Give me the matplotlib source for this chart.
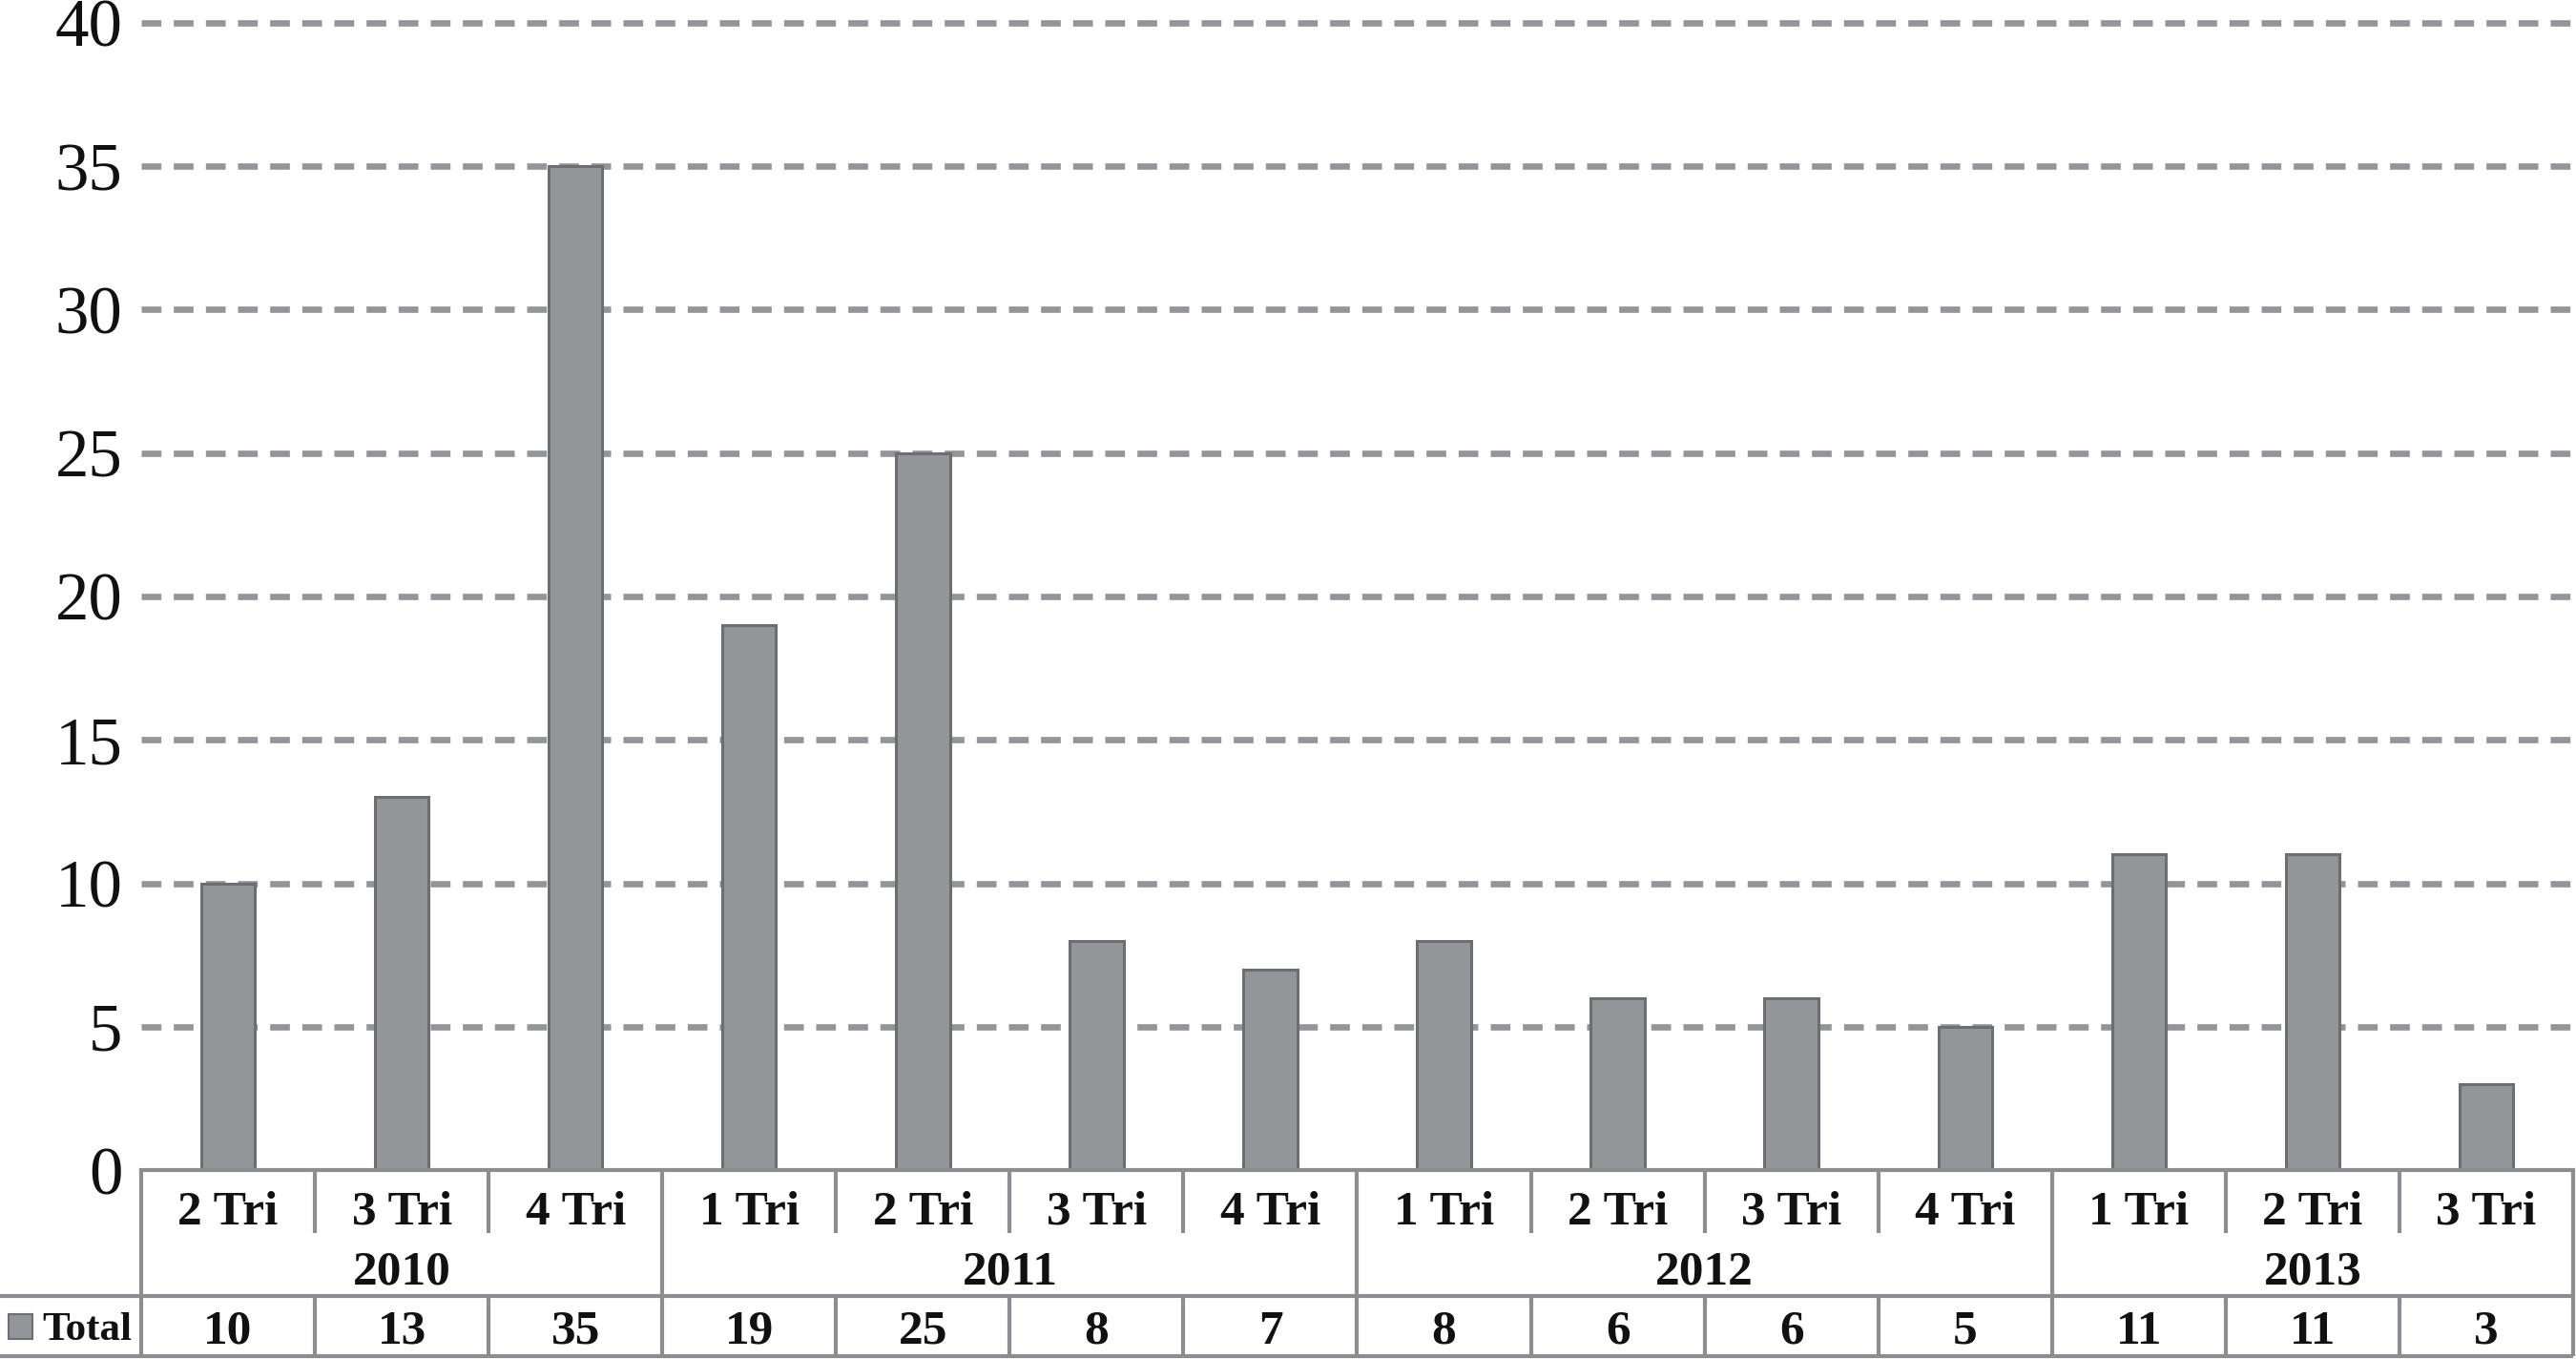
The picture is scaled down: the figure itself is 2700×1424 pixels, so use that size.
#!/usr/bin/env python3
"""Quarterly totals 2010-2013 with data table underneath"""
import matplotlib
matplotlib.use('Agg')
import matplotlib.pyplot as plt
from matplotlib.patches import Rectangle

plt.rcParams['font.family'] = ['Liberation Serif', 'DejaVu Serif']

quarters = ['2 Tri', '3 Tri', '4 Tri',
            '1 Tri', '2 Tri', '3 Tri', '4 Tri',
            '1 Tri', '2 Tri', '3 Tri', '4 Tri',
            '1 Tri', '2 Tri', '3 Tri']
years = ['2010', '2011', '2012', '2013']
year_sizes = [3, 4, 4, 3]
totals = [10, 13, 35, 19, 25, 8, 7, 8, 6, 6, 5, 11, 11, 3]
series_name = 'Total'

BAR = '#939598'
EDGE = '#6d6e71'
LINE = '#8c8d90'

W, H = 2700, 1424
fig = plt.figure(figsize=(W / 100, H / 100), dpi=100)
fig.patch.set_facecolor('white')

# pixel layout
x_left, x_right = 148, 2697
y_zero, y_top = 1226, 24
n = len(totals)
s = (x_right - x_left) / n          # px per category
ymax = 40.2
unit = (y_zero - y_top) / 40.0
ax_top = y_zero - ymax * unit

ax = fig.add_axes([x_left / W, 1 - y_zero / H, (x_right - x_left) / W, (y_zero - ax_top) / H])
ax.set_xlim(-0.5, n - 0.5)
ax.set_ylim(0, ymax)
ax.set_axisbelow(True)

xs = list(range(n))
ax.bar(xs, totals, width=0.31, color=BAR, edgecolor=EDGE, linewidth=2.2, zorder=3)

ax.set_yticks(range(0, 45, 5))
ax.set_xticks([])
ax.tick_params(axis='y', length=0, pad=14, labelsize=51, labelcolor='#111111')
ax.yaxis.grid(True, color='#949598', linewidth=4.8, linestyle=(0, (3.1, 1.95)))
ax.get_ygridlines()[0].set_visible(False)
for side in ('left', 'right', 'top'):
    ax.spines[side].set_visible(False)
ax.spines['bottom'].set_color(LINE)
ax.spines['bottom'].set_linewidth(3)
ax.spines['bottom'].set_zorder(4)

# data table below the axis, in pixel rows
tab = fig.add_axes([0, 0, 1, (H - y_zero) / H])
tab_l = -0.5 - x_left / s
tab_r = n - 0.5 + (W - x_right) / s
tab.set_xlim(tab_l, tab_r)
tab.set_ylim(H, y_zero)
tab.axis('off')

row1, row2, row3 = 1292, 1358, 1421
lw = 3
bounds = [i - 0.5 for i in range(n + 1)]
year_edges = [-0.5]
for sz in year_sizes:
    year_edges.append(year_edges[-1] + sz)

# horizontal lines
tab.plot([tab_l, n - 0.5], [row2, row2], color=LINE, lw=lw, solid_capstyle='butt')
tab.plot([tab_l, n - 0.5], [row3, row3], color=LINE, lw=lw, solid_capstyle='butt')
# vertical lines
for b in bounds:
    if b in year_edges:
        tab.plot([b, b], [y_zero, row3], color=LINE, lw=lw, solid_capstyle='butt')
    else:
        tab.plot([b, b], [y_zero, row1], color=LINE, lw=lw, solid_capstyle='butt')
        tab.plot([b, b], [row2, row3], color=LINE, lw=lw, solid_capstyle='butt')

txt = dict(ha='center', va='baseline', fontsize=37, fontweight='bold', color='#111111')
for i, q in enumerate(quarters):
    tab.text(i, 1283, q, **txt)
for i, v in enumerate(totals):
    tab.text(i, 1408, str(v), **txt)
for k, yr in enumerate(years):
    tab.text((year_edges[k] + year_edges[k + 1]) / 2, 1346, yr, **txt)

# legend key + series name
px = lambda p: tab_l + p / s
tab.add_patch(Rectangle((px(9), 1377), 25 / s, 26, facecolor=BAR, edgecolor=EDGE, linewidth=1.5))
tab.text(px(44), 1404, series_name, ha='left', va='baseline', fontsize=31,
         fontweight='bold', color='#111111')

fig.savefig('out.png', dpi=100, facecolor='white')
plt.close(fig)
